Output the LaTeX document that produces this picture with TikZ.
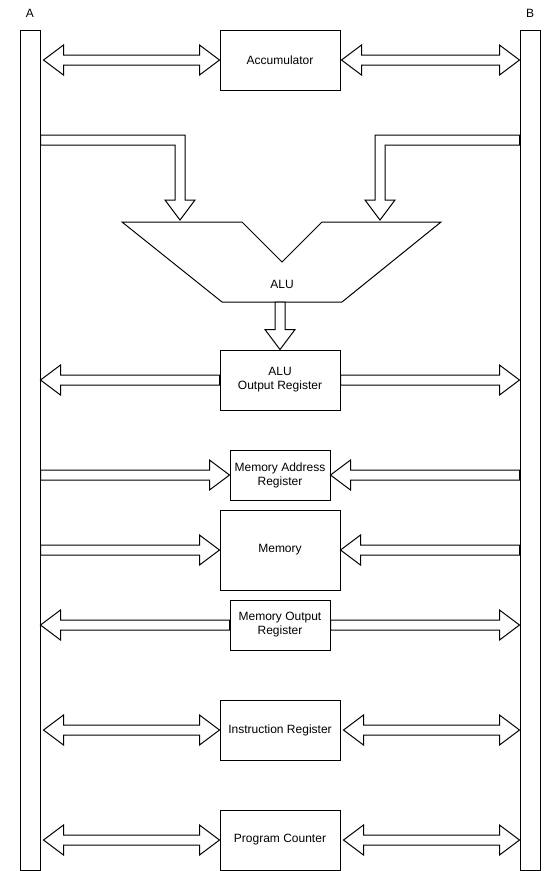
\documentclass[tikz,border=0pt]{standalone}
\usepackage{fontspec}
\setmainfont{Liberation Sans}
\usepackage{tikz}
\usetikzlibrary{calc}
\usetikzlibrary{positioning}

\tikzset{
  bus/.style={draw, line width=1pt, minimum width=20pt, minimum height=840pt, inner sep=0pt},
  reg/.style={draw, line width=1pt, minimum width=120pt, minimum height=60pt, align=center, inner sep=0pt},
  smallreg/.style={reg, minimum width=100pt, minimum height=50pt},
  blockarr/.style={draw, line width=1pt, fill=white, line join=miter},
}

% single block arrow from #1 to #2
\newcommand{\onearrow}[2]{%
  \path (#1) coordinate (p0) (#2) coordinate (p1);
  \path ($(p1)!20pt!(p0)$) coordinate (hb);
  \draw[blockarr] ($(p0)!5pt!90:(p1)$) -- ($(hb)!5pt!90:(p1)$) -- ($(hb)!15pt!90:(p1)$) -- (p1)
     -- ($(hb)!15pt!-90:(p1)$) -- ($(hb)!5pt!-90:(p1)$) -- ($(p0)!5pt!-90:(p1)$) -- cycle;}
% block arrow with a head at both ends
\newcommand{\twoarrow}[2]{%
  \path (#1) coordinate (q0) (#2) coordinate (q1);
  \path ($(q0)!20pt!(q1)$) coordinate (h0) ($(q1)!20pt!(q0)$) coordinate (h1);
  \draw[blockarr] (q0) -- ($(h0)!15pt!90:(q1)$) -- ($(h0)!5pt!90:(q1)$) -- ($(h1)!5pt!90:(q1)$)
     -- ($(h1)!15pt!90:(q1)$) -- (q1) -- ($(h1)!15pt!-90:(q1)$) -- ($(h1)!5pt!-90:(q1)$)
     -- ($(h0)!5pt!-90:(q1)$) -- ($(h0)!15pt!-90:(q1)$) -- cycle;}

\begin{document}
\begin{tikzpicture}[x=1pt, y=-1pt, font=\fontsize{12}{14}\selectfont]
      \useasboundingbox (0,0) rectangle (560,871);
      % the two buses
      \node[bus] (busA) at (30,450) {};
      \node[bus] (busB) at (530,450) {};
      \node[above=8pt of busA.north] (labA) {A};
      \node[above=8pt of busB.north] (labB) {B};

      % registers
      \node[reg] (acc) at (280,60) {Accumulator};
      \node[reg] (aluout) at (280,380) {ALU\\Output Register};
      \node[smallreg] (mar) at (280,475) {Memory Address\\Register};
      \node[reg, minimum height=80pt] (mem) at (280,550) {Memory};
      \node[smallreg] (mor) at (280,625) {Memory Output\\Register};
      \node[reg] (ir) at (280,730) {Instruction Register};
      \node[reg] (pc) at (280,840) {Program Counter};

      % ALU
      \draw[line width=1pt, line join=miter] (122,222) -- (242,222) -- (282,262) -- (322,222) -- (441,222)
          -- (342,302) -- (222,302) -- cycle;
      \node[] (alu) at (282,284) {ALU};
      \coordinate (alubot) at (280,302);

      % bus -> ALU inputs
      \draw[blockarr] (busA.east |- 0,135) -- (185,135) -- (185,200) -- (195,200) -- (180,220)
          -- (165,200) -- (175,200) -- (175,145) -- (busA.east |- 0,145) -- cycle;
      \draw[blockarr] (busB.west |- 0,135) -- (375,135) -- (375,200) -- (365,200) -- (380,220)
          -- (395,200) -- (385,200) -- (385,145) -- (busB.west |- 0,145) -- cycle;
      \onearrow{alubot}{aluout.north}

      % register <-> bus connections
      \twoarrow{[xshift=3pt]busA.east |- acc}{acc.west}
      \twoarrow{[xshift=1pt]acc.east}{busB.west |- acc}
      \onearrow{aluout.west}{busA.east |- aluout}
      \onearrow{aluout.east}{busB.west |- aluout}
      \onearrow{busA.east |- mar}{mar.west}
      \onearrow{busB.west |- mar}{mar.east}
      \onearrow{busA.east |- mem}{mem.west}
      \onearrow{busB.west |- mem}{mem.east}
      \onearrow{mor.west}{busA.east |- mor}
      \onearrow{mor.east}{busB.west |- mor}
      \twoarrow{[xshift=3pt]busA.east |- ir}{ir.west}
      \twoarrow{[xshift=3pt]ir.east}{busB.west |- ir}
      \twoarrow{[xshift=3pt]busA.east |- pc}{pc.west}
      \twoarrow{[xshift=3pt]pc.east}{busB.west |- pc}
\end{tikzpicture}
\end{document}
